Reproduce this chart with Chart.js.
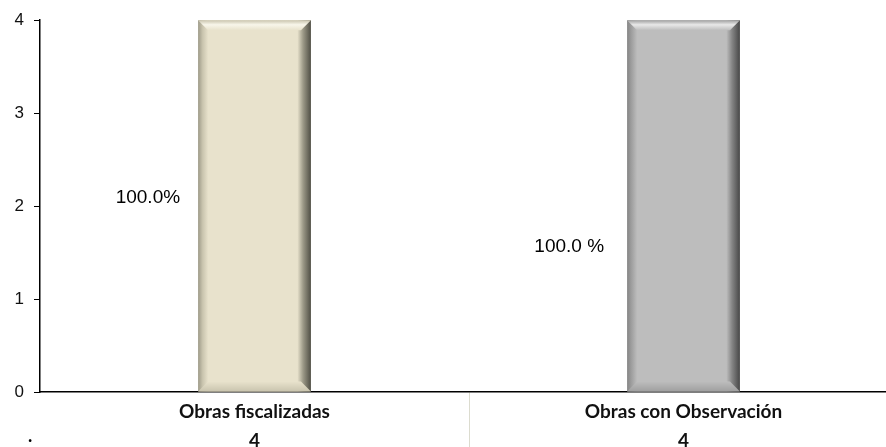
<!DOCTYPE html>
<html>
<head>
<meta charset="utf-8">
<script src="https://cdn.jsdelivr.net/npm/chart.js@4.4.1/dist/chart.umd.min.js"></script>
<style>
  html, body { margin: 0; padding: 0; background: #fff; overflow: hidden; }
  #wrap { width: 898px; height: 447px; }
</style>
</head>
<body>
<div id="wrap"><canvas id="c" width="898" height="447"></canvas></div>
<script>
const CATEGORIES = ["Obras fiscalizadas", "Obras con Observación"];
const VALUES = [4, 4];
const PCT_LABELS = ["100.0%", "100.0 %"];
const Y_TICKS = [0, 1, 2, 3, 4];

const BAR_STYLES = [
  { face: "#e8e2cc", light: "#f8f6ea", dark: "#4f4e44", mid: "#9d9a88", shade: "#c9c4ae" },
  { face: "#bdbdbd", light: "#e8e8e8", dark: "#474747", mid: "#858585", shade: "#9f9f9f" },
];

// bars are painted with a bevel over the library's own bar elements
const bevelPlugin = {
  id: "bevel",
  afterDatasetsDraw(chart) {
    const c = chart.ctx;
    chart.getDatasetMeta(0).data.forEach((el, i) => {
      const st = BAR_STYLES[i];
      const x0 = el.x - el.width / 2, x1 = el.x + el.width / 2;
      const top = el.y, bot = el.base, b = 10;
      c.save();
      // body with side bevels
      let g = c.createLinearGradient(x0, 0, x1, 0);
      g.addColorStop(0, st.mid);
      g.addColorStop(0.04, st.shade);
      g.addColorStop(0.09, st.face);
      g.addColorStop(0.88, st.face);
      g.addColorStop(0.93, st.mid);
      g.addColorStop(1, st.dark);
      c.fillStyle = g;
      c.fillRect(x0, top, x1 - x0, bot - top);
      // top bevel
      g = c.createLinearGradient(0, top, 0, top + b);
      g.addColorStop(0, st.shade);
      g.addColorStop(0.45, st.light);
      g.addColorStop(1, st.face);
      c.fillStyle = g;
      c.beginPath();
      c.moveTo(x0, top); c.lineTo(x1, top); c.lineTo(x1 - b, top + b); c.lineTo(x0 + b, top + b);
      c.closePath(); c.fill();
      // bottom bevel
      g = c.createLinearGradient(0, bot - b, 0, bot);
      g.addColorStop(0, st.face);
      g.addColorStop(1, st.shade);
      c.fillStyle = g;
      c.beginPath();
      c.moveTo(x0 + b, bot - b); c.lineTo(x1 - b, bot - b); c.lineTo(x1, bot); c.lineTo(x0, bot);
      c.closePath(); c.fill();
      c.restore();
    });
  }
};

// percentage labels to the left of each bar, at a given value height
const PCT_AT = [2.09, 1.56];
const PCT_GAP = [18, 23];
const pctPlugin = {
  id: "pct",
  afterDraw(chart) {
    const c = chart.ctx;
    const ys = chart.scales.y;
    c.save();
    c.font = "19px 'Liberation Sans', Arial, sans-serif";
    c.fillStyle = "#000";
    c.textAlign = "right";
    c.textBaseline = "middle";
    chart.getDatasetMeta(0).data.forEach((el, i) => {
      c.fillText(PCT_LABELS[i], el.x - el.width / 2 - PCT_GAP[i], ys.getPixelForValue(PCT_AT[i]));
    });
    c.font = "bold 18px Lato, sans-serif";
    c.textAlign = "left";
    c.fillText(".", 28, 436);
    c.restore();
  }
};

new Chart(document.getElementById("c"), {
  type: "bar",
  data: {
    labels: CATEGORIES.map((cat, i) => [cat, String(VALUES[i])]),
    datasets: [{
      data: VALUES,
      backgroundColor: "rgba(0,0,0,0)",
      borderWidth: 0,
      barPercentage: 1,
      categoryPercentage: 0.263,
    }]
  },
  options: {
    responsive: false,
    animation: false,
    devicePixelRatio: 1,
    layout: { padding: { top: 18, left: 0, right: 0, bottom: 0 } },
    plugins: { legend: { display: false }, tooltip: { enabled: false } },
    scales: {
      x: {
        offset: true,
        border: { display: true, color: "#000", width: 1.5 },
        grid: {
          offset: true,
          drawOnChartArea: false,
          drawTicks: true,
          tickLength: 56,
          color: (ctx) => ctx.index === 1 ? "#dcdccf" : "rgba(0,0,0,0)",
        },
        ticks: {
          color: "#111",
          padding: -50,
          font: { family: "Lato, sans-serif", size: 19, weight: "bold", lineHeight: 1.5 },
        },
        afterFit(scale) { scale.height = 55; },
      },
      y: {
        min: 0,
        max: 4,
        border: { display: true, color: "#000", width: 1.5 },
        grid: { drawOnChartArea: false, tickLength: 6, color: "#000" },
        afterBuildTicks(scale) { scale.ticks = Y_TICKS.map(v => ({ value: v })); },
        ticks: {
          color: "#111",
          padding: 10,
          font: { family: "'Liberation Sans', Arial, sans-serif", size: 17 },
        },
        afterFit(scale) { scale.width = 40; },
      }
    }
  },
  plugins: [bevelPlugin, pctPlugin]
});
</script>
</body>
</html>
